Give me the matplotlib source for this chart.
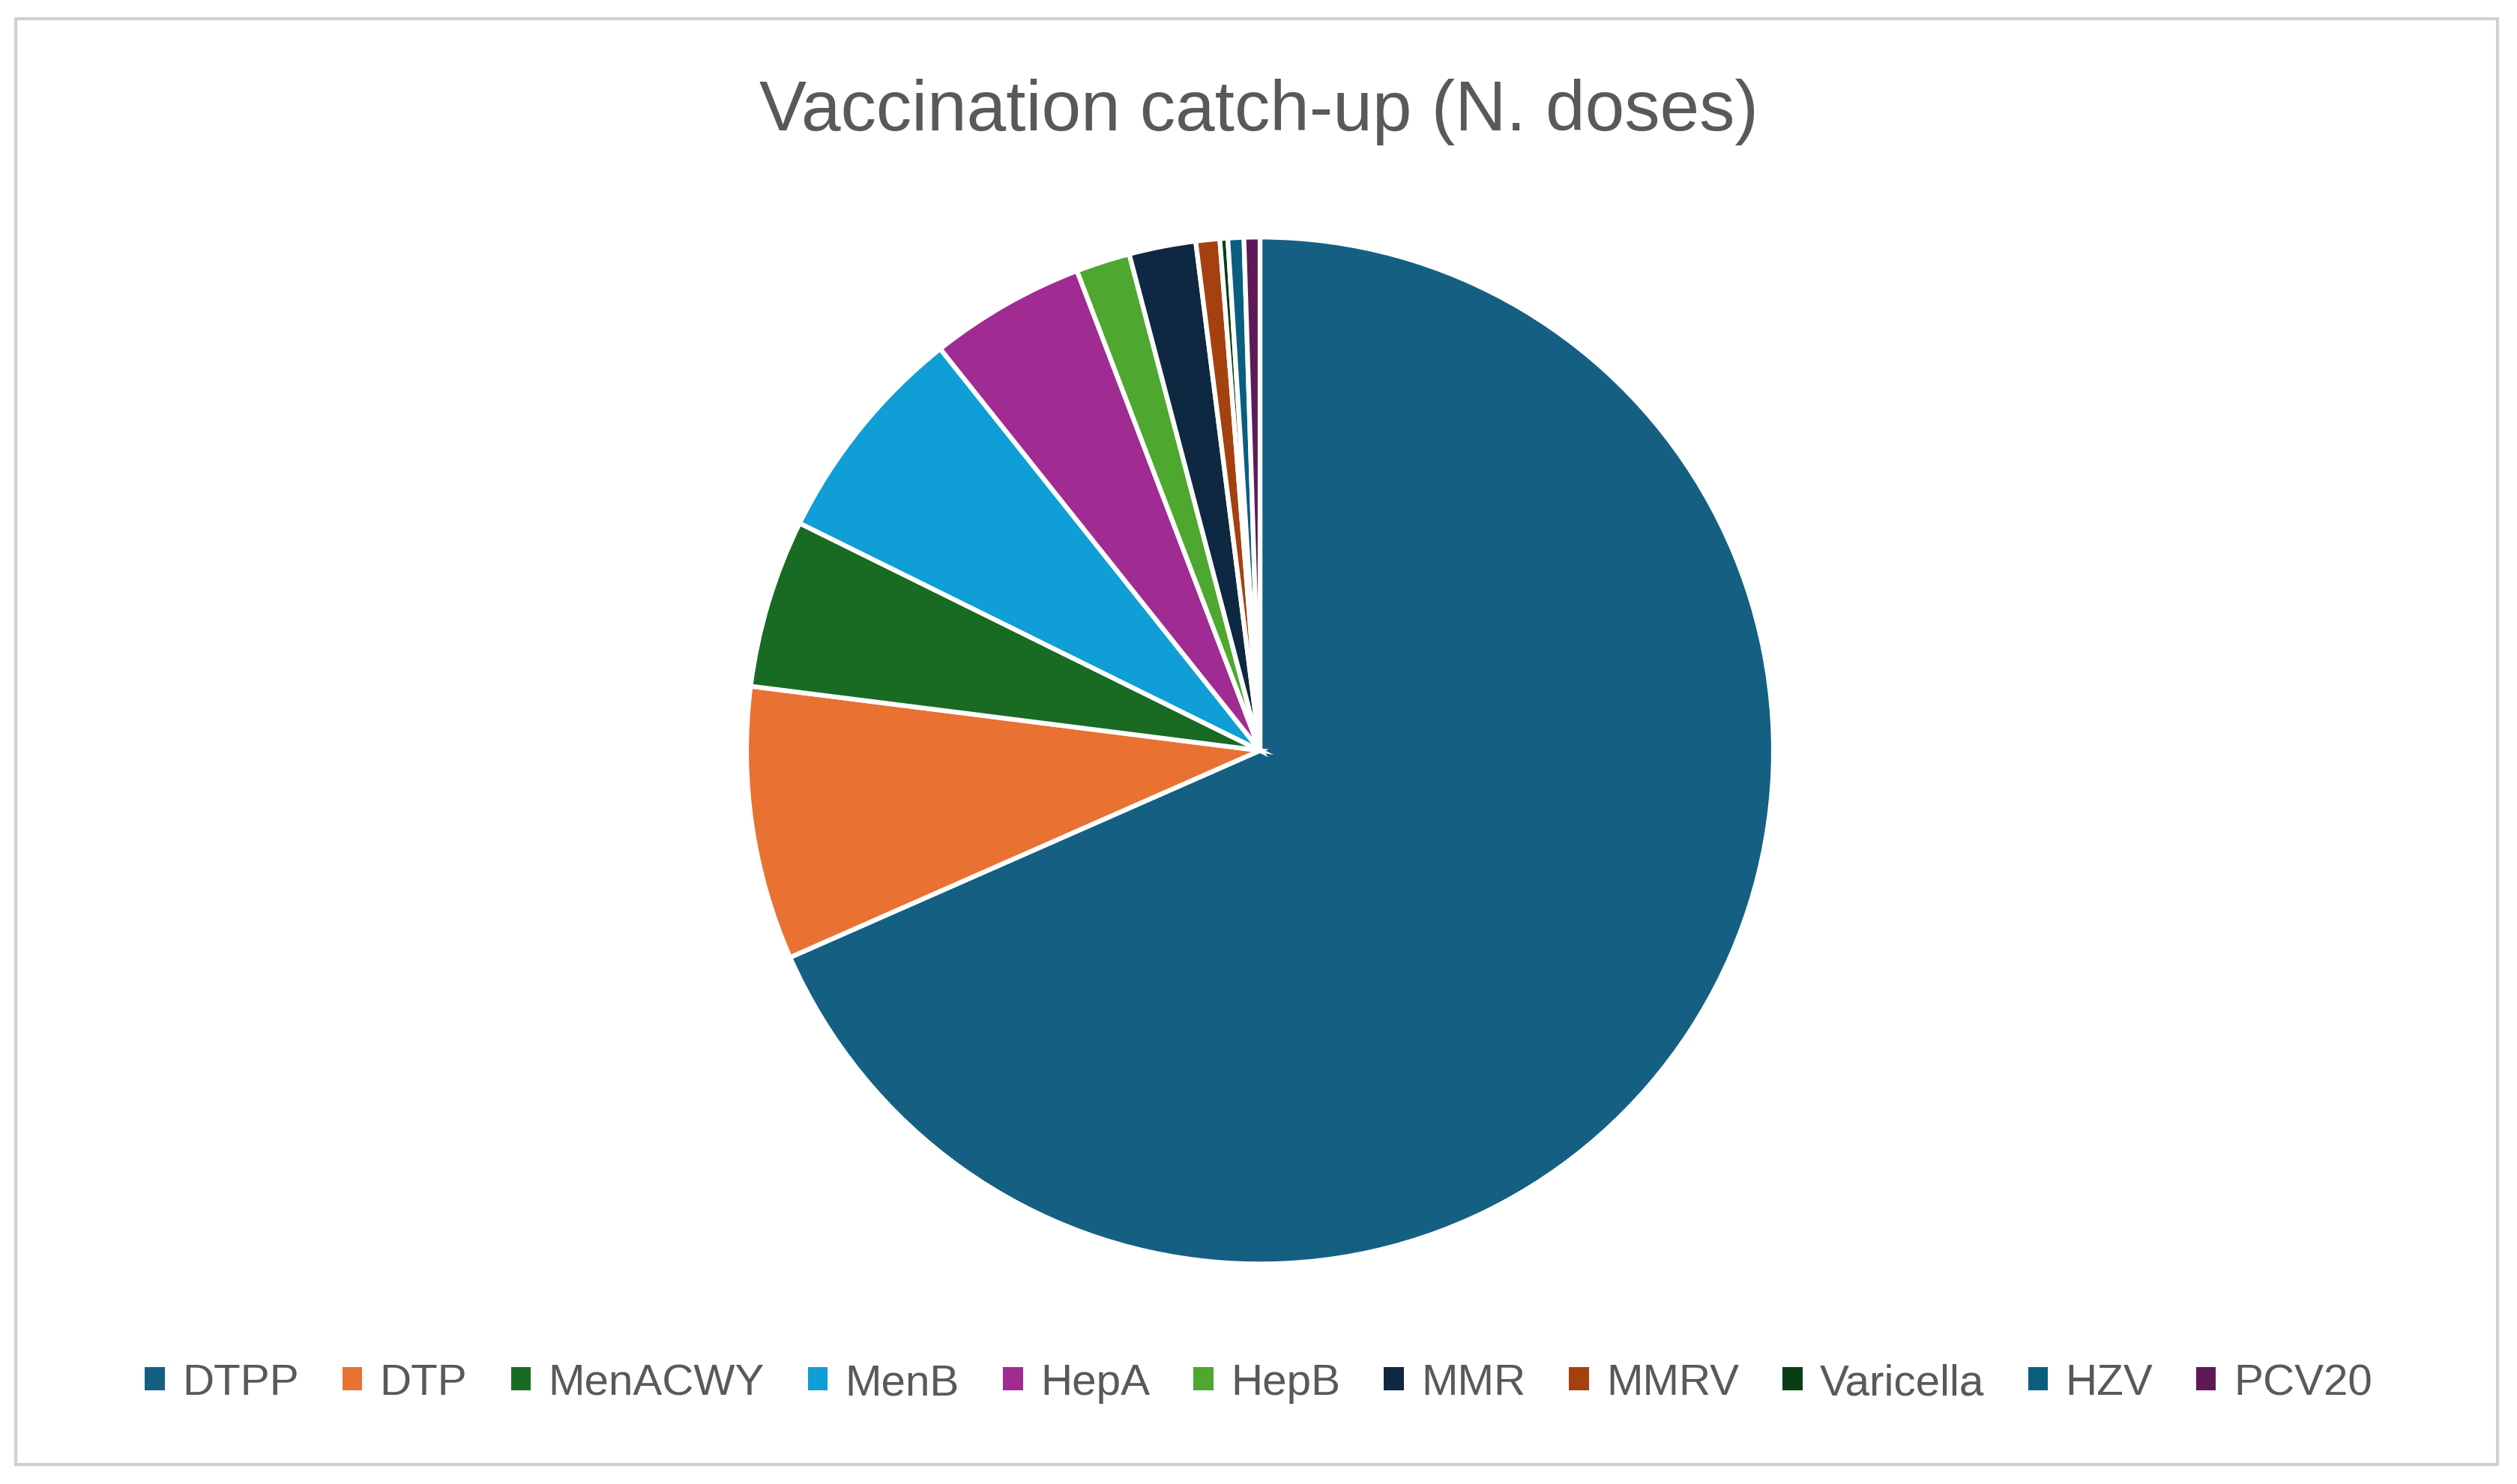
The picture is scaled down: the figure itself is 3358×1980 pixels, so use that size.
import matplotlib
matplotlib.use("Agg")
import matplotlib.pyplot as plt
from matplotlib.patches import Rectangle, Patch

labels = ["DTPP", "DTP", "MenACWY", "MenB", "HepA", "HepB", "MMR", "MMRV", "Varicella", "HZV", "PCV20"]
values = [68.4, 8.6, 5.3, 7.0, 4.9, 1.7, 2.1, 0.75, 0.25, 0.5, 0.5]
colors = ["#156082", "#E97132", "#196B24", "#0F9ED5", "#A02B93", "#4EA72E",
          "#0E2841", "#A5410E", "#0B3D15", "#0A5E80", "#5E1A56"]

fig = plt.figure(figsize=(33.58, 19.81), dpi=100)
fig.patches.append(Rectangle((10/1568, 1-913/925), 1546/1568, 901/925, transform=fig.transFigure,
                             fill=False, edgecolor="#d0d0d0", linewidth=3))
cx, cy, rw, rh = 0.5006, 0.494, 0.204, 0.346
ax = fig.add_axes([cx-rw, cy-rh, 2*rw, 2*rh])
ax.pie(values, colors=colors, startangle=90, counterclock=False, radius=1,
       wedgeprops=dict(edgecolor="white", linewidth=4.5))
ax.set_xlim(-1, 1); ax.set_ylim(-1, 1); ax.set_aspect("equal"); ax.axis("off")

fig.text(0.5, 1-70/925, "Vaccination catch-up (N. doses)", ha="center", va="center",
         fontsize=68, color="#595959", family="Liberation Sans")
handles = [Patch(facecolor=c, label=l) for c, l in zip(colors, labels)]
fig.legend(handles=handles, loc="center", bbox_to_anchor=(0.5, 1-862/925), ncol=11,
           frameon=False, prop=dict(family="Liberation Sans", size=42),
           labelcolor="#595959", handlelength=0.45, handleheight=0.45,
           handletextpad=0.4, columnspacing=1.0)
fig.savefig("out.png", dpi=100)
